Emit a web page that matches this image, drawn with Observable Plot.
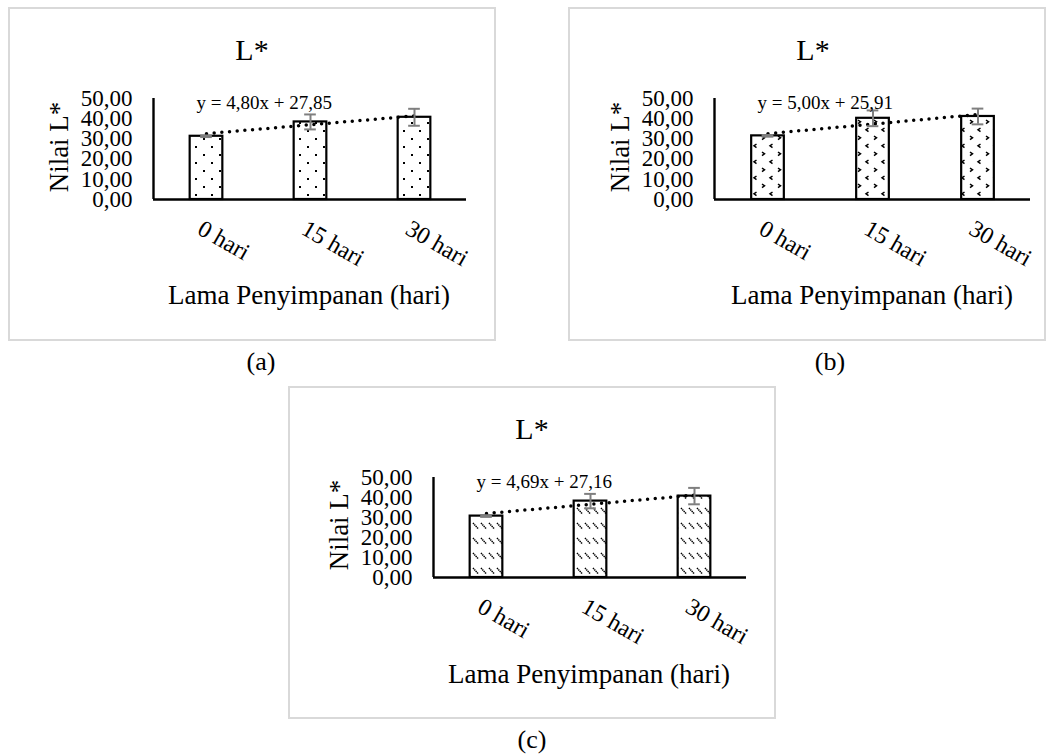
<!DOCTYPE html>
<html><head><meta charset="utf-8">
<script src="https://cdn.jsdelivr.net/npm/d3@7"></script>
<script src="https://cdn.jsdelivr.net/npm/@observablehq/plot@0.6"></script>
<style>
body{margin:0;background:#fff;}
#page{position:relative;width:1055px;height:755px;font-family:"Liberation Serif","Times New Roman",serif;color:#000;overflow:hidden;background:#fff}
.box{position:absolute;border:2px solid #d9d9d9;box-sizing:border-box}
.t{position:absolute;white-space:nowrap;line-height:1;transform:translate(-50%,-50%)}
.chart{position:absolute}
</style></head><body>
<svg width="0" height="0" style="position:absolute">
<defs>
<pattern id="pDots" patternUnits="userSpaceOnUse" width="16" height="16">
  <rect width="16" height="16" fill="#fff"/>
  <rect x="3" y="3" width="2" height="2" fill="#000"/>
  <rect x="11" y="11" width="2" height="2" fill="#000"/>
</pattern>
<pattern id="pDivot" patternUnits="userSpaceOnUse" width="16" height="16">
  <rect width="16" height="16" fill="#fff"/>
  <path d="M2,1 L4.5,2.8 L2,4.6" fill="none" stroke="#000" stroke-width="1.5"/>
  <path d="M12.5,9 L10,10.8 L12.5,12.6" fill="none" stroke="#000" stroke-width="1.5"/>
</pattern>
<pattern id="pDash" patternUnits="userSpaceOnUse" width="8" height="15">
  <rect width="8" height="15" fill="#fff"/>
  <path d="M1,2 L6.5,8" fill="none" stroke="#000" stroke-width="1.5" stroke-dasharray="1.4 0.6"/>
</pattern>
</defs>
</svg>
<div id="page"></div>
<script>
// ---- data ----
const categories = ["0 hari", "15 hari", "30 hari"];
const meanA = [31.3, 38.4, 40.7];
const errA  = [0.4, 3.7, 4.2];
const meanB = [31.5, 40.2, 41.1];
const errB  = [0.4, 3.9, 3.9];
const meanC = [30.7, 38.2, 40.7];
const errC  = [0.4, 3.6, 4.1];
const trendEnds = ["0 hari", "30 hari"];
const trendA = [32.6, 41.4];
const trendB = [32.6, 42.1];
const trendC = [32.0, 41.2];
const equations = ["y = 4,80x + 27,85", "y = 5,00x + 25,91", "y = 4,69x + 27,16"];
const yTicks = [0, 10, 20, 30, 40, 50];
const chartTitle = "L*";
const yTitle = "Nilai L*";
const xTitle = "Lama Penyimpanan (hari)";
const panelLabels = ["(a)", "(b)", "(c)"];

const page = document.getElementById("page");
const FONT = '"Liberation Serif","Times New Roman",serif';

function addText(str, x, y, size, rot) {
  const d = document.createElement("div");
  d.className = "t";
  d.textContent = str;
  d.style.left = x + "px";
  d.style.top = y + "px";
  d.style.fontSize = size + "px";
  if (rot) d.style.transform = "translate(-50%,-50%) rotate(" + rot + "deg)";
  page.appendChild(d);
}

function panel(p) {
  const box = document.createElement("div");
  box.className = "box";
  Object.assign(box.style, {left: p.left + "px", top: p.top + "px", width: p.width + "px", height: p.height + "px"});
  page.appendChild(box);

  const data = categories.map((c, i) => ({c, v: p.means[i], e: p.errs[i]}));
  const trend = trendEnds.map((c, i) => ({c, v: p.trend[i]}));
  const W = p.width - p.mL - p.mR;
  const step = W / categories.length;
  const barW = 33, capW = 12;
  const capInset = (step - capW) / 2;
  const cap = {stroke: "#7f7f7f", strokeWidth: 2, insetLeft: capInset, insetRight: capInset};

  const svg = Plot.plot({
    width: p.width, height: p.height,
    marginLeft: p.mL, marginRight: p.mR, marginTop: p.mT, marginBottom: p.mB,
    style: {fontFamily: FONT, fontSize: "23px", background: "transparent", color: "#000", overflow: "visible"},
    x: {domain: categories, padding: 0, axis: null},
    y: {domain: [0, 50], ticks: yTicks, tickSize: 0, tickPadding: 21,
        tickFormat: d => d.toFixed(2).replace(".", ","), label: null},
    marks: [
      Plot.barY(data, {x: "c", y: "v", fill: "url(#" + p.fill + ")", stroke: "#000", strokeWidth: 2.2,
        insetLeft: (step - barW) / 2, insetRight: (step - barW) / 2}),
      Plot.line(trend, {x: "c", y: "v", stroke: "#000", strokeWidth: 3.5,
        strokeDasharray: "0 7.7", strokeLinecap: "round"}),
      Plot.ruleX(data, {x: "c", y1: d => d.v - d.e, y2: d => d.v + d.e, stroke: "#7f7f7f", strokeWidth: 2}),
      Plot.tickY(data, {x: "c", y: d => d.v - d.e, ...cap}),
      Plot.tickY(data, {x: "c", y: d => d.v + d.e, ...cap}),
      Plot.ruleY([0], {stroke: "#000", strokeWidth: 2.4}),
      Plot.ruleX([0], {x: null, y1: 0, y2: 50, dx: -W / 2, stroke: "#000", strokeWidth: 2.4}),
      Plot.text(categories, {x: d => d, frameAnchor: "bottom", dy: 19, dx: -2, rotate: 30,
        textAnchor: "start", lineAnchor: "top", fontSize: 24}),
      Plot.text([p.eq], {frameAnchor: "top-left", dx: 43, dy: -3, textAnchor: "start", fontSize: 19})
    ]
  });
  const holder = document.createElement("div");
  holder.className = "chart";
  Object.assign(holder.style, {left: p.left + "px", top: p.top + "px", width: p.width + "px", height: p.height + "px"});
  holder.appendChild(svg);
  page.appendChild(holder);

  const fx0 = p.left + p.mL;
  const fy0 = p.top + p.mT, fy1 = p.top + p.height - p.mB;
  addText(chartTitle, p.titleX, p.top + 43, 30);
  addText(yTitle, fx0 - 94, (fy0 + fy1) / 2 - 2, 27, -90);
  addText(xTitle, p.xTitleX, p.top + 288, 27);
  addText(p.label, p.labelX, p.top + p.height + 21, 26);
}

panel({left: 8, top: 7, width: 488, height: 334, mL: 145, mR: 30, mT: 91, mB: 142,
  means: meanA, errs: errA, trend: trendA, eq: equations[0], fill: "pDots",
  titleX: 252, xTitleX: 309, label: panelLabels[0], labelX: 261});
panel({left: 568, top: 7, width: 478, height: 334, mL: 146, mR: 16, mT: 91, mB: 142,
  means: meanB, errs: errB, trend: trendB, eq: equations[1], fill: "pDivot",
  titleX: 813, xTitleX: 872, label: panelLabels[1], labelX: 830});
panel({left: 288, top: 386, width: 488, height: 333, mL: 145, mR: 30, mT: 91, mB: 142,
  means: meanC, errs: errC, trend: trendC, eq: equations[2], fill: "pDash",
  titleX: 532, xTitleX: 589, label: panelLabels[2], labelX: 532});
</script>
</body></html>
